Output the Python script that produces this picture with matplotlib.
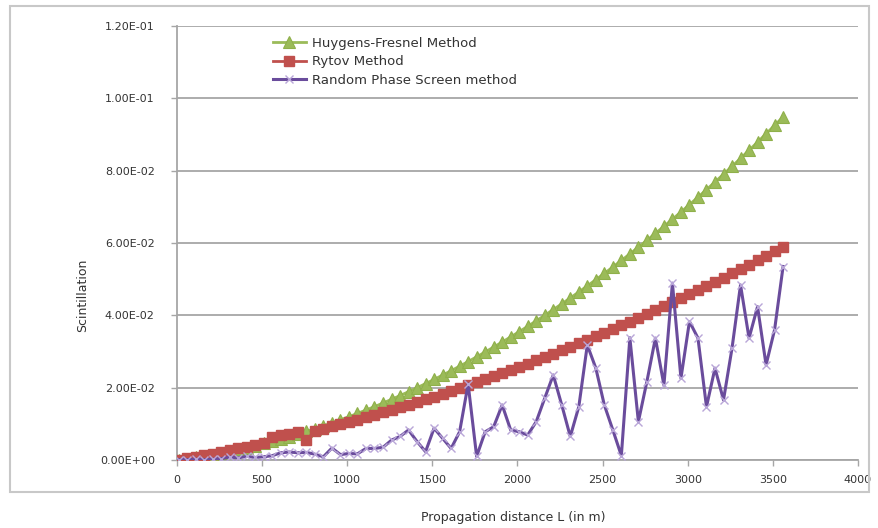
import matplotlib
matplotlib.use("Agg")
import matplotlib.pyplot as plt
from matplotlib.ticker import FuncFormatter
from matplotlib.patches import Rectangle

plt.rcParams['font.family'] = ['DejaVu Sans']

# Propagation distance (m)
distance = [10 + 50 * k for k in range(72)]

# Scintillation values (units of 1e-3)
huygens_fresnel = [
    0.06, 0.38, 0.73, 1.11, 1.52, 1.95, 2.42, 2.91, 3.44, 3.99,
    4.57, 5.18, 5.82, 6.49, 7.18, 7.91, 8.67, 9.45, 10.26, 11.11,
    11.98, 12.88, 13.81, 14.76, 15.75, 16.77, 17.81, 18.89, 19.99, 21.12,
    22.28, 23.47, 24.69, 25.94, 27.22, 28.53, 29.86, 31.23, 32.62, 34.04,
    35.49, 36.97, 38.48, 40.02, 41.59, 43.18, 44.81, 46.46, 48.15, 49.86,
    51.60, 53.37, 55.17, 57.00, 58.86, 60.74, 62.66, 64.60, 66.58, 68.58,
    70.61, 72.67, 74.76, 76.88, 79.02, 81.20, 83.41, 85.64, 87.90, 90.20,
    92.52, 94.87,
]
rytov = [
    0.08, 0.49, 0.91, 1.34, 1.79, 2.24, 2.71, 3.19, 3.68, 4.19,
    4.70, 6.40, 6.90, 7.30, 7.70, 5.40, 8.05, 8.66, 9.27, 9.89,
    10.53, 11.18, 11.84, 12.51, 13.19, 13.89, 14.60, 15.32, 16.05, 16.80,
    17.55, 18.32, 19.10, 19.89, 20.70, 21.51, 22.34, 23.18, 24.04, 24.90,
    25.78, 26.66, 27.57, 28.48, 29.40, 30.34, 31.29, 32.25, 33.22, 34.20,
    35.20, 36.21, 37.23, 38.26, 39.31, 40.36, 41.43, 42.51, 43.60, 44.71,
    45.82, 46.95, 48.09, 49.25, 50.41, 51.59, 52.77, 53.98, 55.19, 56.41,
    57.65, 58.90,
]
random_phase_screen = [
    0.1, 0.1, 0.2, 0.1, 0.2, 0.4, 0.8, 0.6, 1.0, 0.7,
    0.9, 1.2, 2.0, 2.2, 2.0, 2.1, 1.6, 0.9, 3.3, 1.5,
    1.8, 1.7, 3.2, 3.2, 3.5, 5.5, 6.5, 8.3, 5.1, 2.3,
    8.8, 6.0, 3.2, 7.8, 21.0, 1.0, 7.8, 9.2, 15.2, 8.3,
    7.8, 6.9, 10.6, 17.1, 23.5, 15.2, 6.5, 14.7, 31.8, 25.4,
    15.2, 8.3, 1.2, 33.8, 10.6, 21.7, 33.7, 20.7, 48.9, 22.6,
    38.3, 33.7, 14.7, 25.4, 16.6, 30.9, 48.4, 33.7, 42.4, 26.3,
    36.0, 53.5,
]

series_labels = ["Huygens-Fresnel Method", "Rytov Method", "Random Phase Screen method"]
y_ticks = [0.0, 0.02, 0.04, 0.06, 0.08, 0.10, 0.12]
x_ticks = [0, 500, 1000, 1500, 2000, 2500, 3000, 3500, 4000]

W, H = 879, 528
fig = plt.figure(figsize=(W / 100, H / 100), dpi=100)
fig.patch.set_facecolor("white")

# outer chart border
fig.patches.append(Rectangle((10 / W, 1 - 492 / H), (869 - 10) / W, (492 - 6) / H,
                             transform=fig.transFigure, fill=False,
                             edgecolor="#c8c8c8", linewidth=1.5, zorder=0))

ax = fig.add_axes([177 / W, 1 - 460 / H, (858 - 177) / W, (460 - 26) / H])

scale = 1e-3
ax.plot(distance, [v * scale for v in huygens_fresnel], color="#9bbb59", lw=2,
        marker="^", markersize=8, markeredgecolor="#8fb04a", markeredgewidth=0.8,
        label=series_labels[0], zorder=3)
ax.plot(distance, [v * scale for v in rytov], color="#c0504d", lw=2,
        marker="s", markersize=6.5, markeredgecolor="#c0504d",
        label=series_labels[1], zorder=4)
ax.plot(distance, [v * scale for v in random_phase_screen], color="#6a4c9c", lw=2.2,
        marker="x", markersize=5.5, markeredgecolor="#b9a6d8", markeredgewidth=1.0,
        label=series_labels[2], zorder=5)

ax.set_xlim(0, 4000)
ax.set_ylim(0, 0.12)
ax.set_xticks(x_ticks)
ax.set_yticks(y_ticks)
ax.yaxis.set_major_formatter(FuncFormatter(lambda v, p: f"{v:.2E}"))
ax.yaxis.grid(True, color="#a6a6a6", lw=1.3)
ax.set_axisbelow(True)
for s in ["top", "right"]:
    ax.spines[s].set_visible(False)
for s in ["left", "bottom"]:
    ax.spines[s].set_color("#a6a6a6")
    ax.spines[s].set_linewidth(1.3)
ax.tick_params(axis="both", colors="#a6a6a6", length=4, width=1, labelcolor="#333333",
               labelsize=8)
ax.tick_params(axis="y", pad=12)
ax.tick_params(axis="x", pad=7)

fig.text(513 / W, 1 - 517 / H, "Propagation distance L (in m)", ha="center", va="center",
         fontsize=9, color="#333333")
fig.text(83 / W, 1 - 295 / H, "Scintillation", ha="center", va="center", rotation=90,
         fontsize=9, color="#333333")

leg = ax.legend(loc="upper left", bbox_to_anchor=(266 / W, 1 - 30 / H),
                bbox_transform=fig.transFigure, frameon=False, fontsize=9.5,
                handlelength=2.5, handletextpad=0.45, labelspacing=0.42, borderpad=0)
for t in leg.get_texts():
    t.set_color("#333333")

fig.savefig("out.png", dpi=100, facecolor="white")
